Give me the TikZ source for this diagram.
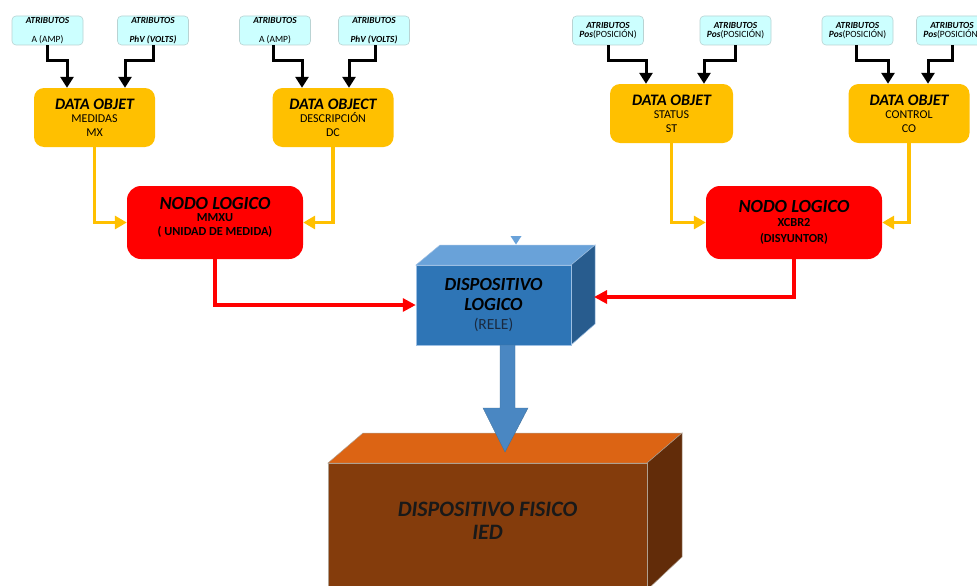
\documentclass[tikz,border=0pt]{standalone}
\usepackage{fontspec}
\setmainfont{Carlito}
\usetikzlibrary{arrows.meta,calc}

\definecolor{attrfill}{HTML}{CCFFFF}
\definecolor{attrline}{HTML}{B9D3D3}
\definecolor{dofill}{HTML}{FFC000}
\definecolor{lnred}{HTML}{FF0000}
\definecolor{bluefront}{HTML}{2E75B6}
\definecolor{bluetop}{HTML}{69A2D9}
\definecolor{blueside}{HTML}{285C8E}
\definecolor{blueedge}{HTML}{9DBFE3}
\definecolor{bigarrow}{HTML}{4A87C2}
\definecolor{bigarrowedge}{HTML}{41719C}
\definecolor{brfront}{HTML}{843C0C}
\definecolor{brtop}{HTML}{DC6414}
\definecolor{brside}{HTML}{622C09}
\definecolor{bredge}{HTML}{B0A090}

\newcommand\ttlfont[1]{\fontsize{#1}{\fpeval{1.2*#1}}\selectfont\bfseries\itshape}
\newcommand\rgfont[1]{\fontsize{#1}{\fpeval{1.2*#1}}\selectfont}

\begin{document}
\begin{tikzpicture}[x=1pt,y=-1pt,
  attr/.style={draw=attrline, fill=attrfill, rounded corners=4pt, line width=0.6pt,
    minimum width=71pt, minimum height=29pt, inner sep=0pt, align=center,
    font=\fontsize{9}{10.5}\selectfont},
  dobj/.style={fill=dofill, rounded corners=10pt, minimum width=121pt,
    minimum height=59pt, inner sep=0pt, align=center,
    font=\fontsize{12}{13.5}\selectfont},
  lnode/.style={fill=lnred, rounded corners=14pt, minimum width=176pt,
    minimum height=73pt, inner sep=0pt, align=center,
    font=\fontsize{12.3}{14}\selectfont\bfseries},
  blkarrow/.style={draw=black, line width=3pt, line join=miter,
    -{Triangle[width=13pt,length=11pt]}},
  ylwarrow/.style={draw=dofill, line width=3.4pt, line join=miter,
    -{Triangle[width=13pt,length=12pt]}},
  redarrow/.style={draw=lnred, line width=3.2pt, line join=miter,
    -{Triangle[width=13pt,length=13pt]}},
]
\clip (0,0) rectangle (977,586);
\fill[white] (0,0) rectangle (977,586);

% ---------- attribute boxes ----------
\node[attr] (a1) at (47.5,30.5) {{\ttlfont{9.3}ATRIBUTOS}\\[8pt]{\rgfont{9.5}A (AMP)}};
\node[attr] (a2) at (153,30.5) {{\ttlfont{9.3}ATRIBUTOS}\\[8pt]{\ttlfont{9.3}PhV (VOLTS)}};
\node[attr] (a3) at (275,30.5) {{\ttlfont{9.3}ATRIBUTOS}\\[8pt]{\rgfont{9.5}A (AMP)}};
\node[attr] (a4) at (374,30.5) {{\ttlfont{9.3}ATRIBUTOS}\\[8pt]{\ttlfont{9.3}PhV (VOLTS)}};
\node[attr] (a5) at (608,30.5) {{\ttlfont{9.3}ATRIBUTOS}\\[-1pt]{\ttlfont{9.5}Pos}{\rgfont{9.5}(POSICIÓN)}};
\node[attr] (a6) at (735.5,30.5) {{\ttlfont{9.3}ATRIBUTOS}\\[-1pt]{\ttlfont{9.5}Pos}{\rgfont{9.5}(POSICIÓN)}};
\node[attr] (a7) at (857.5,30.5) {{\ttlfont{9.3}ATRIBUTOS}\\[-1pt]{\ttlfont{9.5}Pos}{\rgfont{9.5}(POSICIÓN)}};
\node[attr] (a8) at (952,30.5) {{\ttlfont{9.3}ATRIBUTOS}\\[-1pt]{\ttlfont{9.5}Pos}{\rgfont{9.5}(POSICIÓN)}};

% ---------- data objects ----------
\node[dobj] (d1) at (94.5,117.5) {{\ttlfont{16}DATA OBJET}\\[0pt]MEDIDAS\\MX};
\node[dobj] (d2) at (333,117.5) {{\ttlfont{16}DATA OBJECT}\\[0pt]DESCRIPCIÓN\\DC};
\node[dobj, minimum width=123pt] (d3) at (671.5,113.5) {{\ttlfont{16}DATA OBJET}\\[0pt]STATUS\\ST};
\node[dobj] (d4) at (909,113.5) {{\ttlfont{16}DATA OBJET}\\[0pt]CONTROL\\CO};

% ---------- logical nodes ----------
\node[lnode] (n1) at (215,222.5) {{\ttlfont{18.5}NODO LOGICO}\\[-2pt]MMXU\\( UNIDAD DE MEDIDA)\\[-2pt]};
\node[lnode] (n2) at (794,222.5) {{\ttlfont{18.5}NODO LOGICO}\\[0pt]XCBR2\\[2pt](DISYUNTOR)};

% ---------- logical device (3D box) ----------
\fill[bluetop, draw=blueedge, line width=0.5pt] (416,265) -- (440,245) -- (595,245) -- (571,265) -- cycle;
\fill[blueside, draw=blueedge, line width=0.5pt] (571,265) -- (595,245) -- (595,324) -- (571,345) -- cycle;
\node[fill=bluefront, draw=blueedge, line width=0.5pt, minimum width=155pt, minimum height=80pt,
  inner sep=0pt, align=center, font=\fontsize{18}{20}\selectfont] (dl) at (493.5,305)
  {{\ttlfont{18.5}DISPOSITIVO}\\{\ttlfont{18.5}LOGICO}\\[-1pt]{\fontsize{15.5}{15.5}\selectfont\color[HTML]{1A2A40}(RELE)}};
\coordinate (dlside) at (594,297);
\fill[bluetop] (510.5,236) -- (521.5,236) -- (516,244.5) -- cycle;

% ---------- physical device (3D box) ----------
\fill[brtop, draw=bredge, line width=0.5pt] (328,463) -- (363,433) -- (682,433) -- (647,463) -- cycle;
\fill[brside, draw=bredge, line width=0.5pt] (647,463) -- (682,433) -- (682,557) -- (647,590) -- cycle;
\fill[brfront, draw=bredge, line width=0.5pt] (328,463) rectangle (647,590);
\node[align=center, text=black!90, font=\fontsize{22}{23}\selectfont] (fis) at (487.5,521)
  {{\ttlfont{22}DISPOSITIVO FISICO}\\{\ttlfont{22}IED}};

% ---------- block arrow from logical to physical device ----------
\filldraw[fill=bigarrow, draw=bigarrowedge, line width=0.4pt]
  (500,345) -- (515,345) -- (515,408) -- (528,408) -- (505,452) -- (483,408) -- (500,408) -- cycle;

% ---------- connectors ----------
\draw[blkarrow] (a1.south) -- ++(0,15) -| ([xshift=-27.5pt]d1.north);
\draw[blkarrow] (a2.south) -- ++(0,15) -| ([xshift=30.5pt]d1.north);
\draw[blkarrow] ([xshift=-2pt]a3.south) -- ++(0,15) -| ([xshift=-31pt]d2.north);
\draw[blkarrow] ([xshift=1pt]a4.south) -- ++(0,15) -| ([xshift=16pt]d2.north);
\draw[blkarrow] (a5.south) -- ++(0,15) -| ([xshift=-25.5pt]d3.north);
\draw[blkarrow] (a6.south) -- ++(0,15) -| ([xshift=32.5pt]d3.north);
\draw[blkarrow] ([xshift=-1.5pt]a7.south) -- ++(0,15) -| ([xshift=-21pt]d4.north);
\draw[blkarrow] (a8.south) -- ++(0,15) -| ([xshift=19pt]d4.north);

\draw[ylwarrow] (d1.south) |- (n1.west);
\draw[ylwarrow] (d2.south) |- (n1.east);
\draw[ylwarrow] (d3.south) |- (n2.west);
\draw[ylwarrow] (d4.south) |- (n2.east);

\draw[redarrow] (n1.south) |- (dl.west);
\draw[redarrow] (n2.south) |- (dlside);
\end{tikzpicture}
\end{document}
